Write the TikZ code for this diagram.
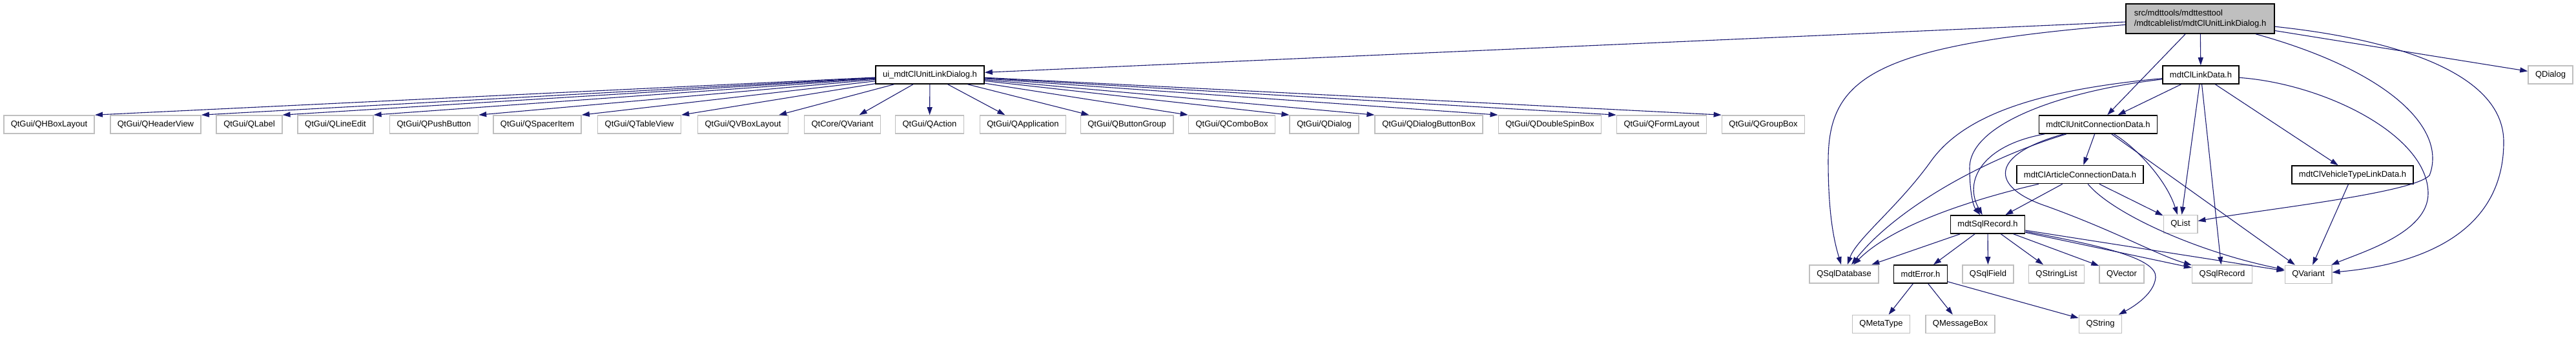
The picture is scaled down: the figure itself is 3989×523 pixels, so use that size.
\documentclass[tikz,border=0pt]{standalone}
\usepackage{fontspec}
\setmainfont{Liberation Sans}
\usepackage{xcolor}
\usepackage{tikz}
\usetikzlibrary{arrows.meta}
\definecolor{edgeblue}{HTML}{191970}
\definecolor{extgray}{HTML}{BFBFBF}
\tikzset{hdr/.style={draw=black,line width=1.6pt,fill=white,minimum height=28pt,inner xsep=11pt,inner ysep=2pt,font=\fontsize{13}{16}\selectfont},
  ext/.style={hdr,draw=extgray},
  dep/.style={edgeblue,line width=1.1pt,-{Triangle[length=12pt,width=8pt]}}}

\begin{document}
\begin{tikzpicture}[x=1pt,y=-1pt]
\useasboundingbox (0,0) rectangle (3989,523);
% main file and generated ui header
\node[hdr,fill=extgray,align=left,minimum height=46pt,inner xsep=13pt] (root) at (3407,29) {src/mdttools/mdttesttool\\/mdtcablelist/mdtClUnitLinkDialog.h};
\node[hdr] (ui) at (1440,116) {ui\_mdtClUnitLinkDialog.h};
% Qt headers of the ui file
\node[ext] (g1) at (76,193) {QtGui/QHBoxLayout}; \node[ext] (g2) at (241,193) {QtGui/QHeaderView}; \node[ext] (g3) at (386,193) {QtGui/QLabel};
\node[ext] (g4) at (519.5,193) {QtGui/QLineEdit}; \node[ext] (g5) at (672,193) {QtGui/QPushButton}; \node[ext] (g6) at (832,193) {QtGui/QSpacerItem};
\node[ext] (g7) at (990,193) {QtGui/QTableView}; \node[ext] (g8) at (1150.5,193) {QtGui/QVBoxLayout}; \node[ext] (g9) at (1304.5,193) {QtCore/QVariant};
\node[ext] (g10) at (1439.5,193) {QtGui/QAction}; \node[ext] (g11) at (1584,193) {QtGui/QApplication}; \node[ext] (g12) at (1745,193) {QtGui/QButtonGroup};
\node[ext] (g13) at (1907.5,193) {QtGui/QComboBox}; \node[ext] (g14) at (2050.5,193) {QtGui/QDialog}; \node[ext] (g15) at (2212.5,193) {QtGui/QDialogButtonBox};
\node[ext] (g16) at (2400,193) {QtGui/QDoubleSpinBox}; \node[ext] (g17) at (2573,193) {QtGui/QFormLayout}; \node[ext] (g18) at (2730.5,193) {QtGui/QGroupBox};
% project headers
\node[hdr] (linkdata) at (3408,116) {mdtClLinkData.h}; \node[ext] (qdialog) at (3949.5,116) {QDialog};
\node[hdr] (unitconn) at (3249,193) {mdtClUnitConnectionData.h};
\node[hdr] (artconn) at (3221,270.5) {mdtClArticleConnectionData.h}; \node[hdr] (vtlink) at (3643,271) {mdtClVehicleTypeLinkData.h};
\node[hdr] (sqlrec) at (3078,348) {mdtSqlRecord.h}; \node[ext] (qlist) at (3376.5,347.5) {QList};
\node[ext] (qsqldb) at (2855.5,425) {QSqlDatabase}; \node[hdr] (mdterror) at (2974,425) {mdtError.h}; \node[ext] (qsqlfield) at (3078.5,425) {QSqlField};
\node[ext] (qstrlist) at (3184.5,425) {QStringList}; \node[ext] (qvector) at (3285.5,425) {QVector}; \node[ext] (qsqlrecord) at (3441,425) {QSqlRecord};
\node[ext] (qvariant) at (3574.5,425.5) {QVariant};
\node[ext] (qmetatype) at (2913,502.5) {QMetaType}; \node[ext] (qmsgbox) at (3035.5,502.5) {QMessageBox}; \node[ext] (qstring) at (3252.5,502.5) {QString};
% includes of the main file
\draw[dep] (root) -- (ui); \draw[dep] (root) -- (linkdata); \draw[dep] (root) -- (unitconn); \draw[dep] (root) -- (qdialog);
\draw[dep] (root) .. controls (2900,70) and (2831,120) .. (2831,250) .. controls (2831,340) and (2842,380) .. (qsqldb);
\draw[dep] (root) .. controls (3700,110) and (3790,200) .. (3762,272) .. controls (3735,300) and (3500,325) .. (qlist);
\draw[dep] (root) .. controls (3700,60) and (3877,110) .. (3877,220) .. controls (3877,360) and (3750,410) .. (qvariant);
% ui file
\draw[dep] (ui) -- (g1.north east); \draw[dep] (ui) -- (g2.north east); \draw[dep] (ui) -- (g3.north east); \draw[dep] (ui) -- (g4.north east);
\draw[dep] (ui) -- (g5.north east); \draw[dep] (ui) -- (g6.north east); \draw[dep] (ui) -- (g7.north east);
\draw[dep] (ui) -- (g8); \draw[dep] (ui) -- (g9); \draw[dep] (ui) -- (g10); \draw[dep] (ui) -- (g11); \draw[dep] (ui) -- (g12);
\draw[dep] (ui) -- (g13.north west); \draw[dep] (ui) -- (g14.north west); \draw[dep] (ui) -- (g15.north west);
\draw[dep] (ui) -- (g16.north west); \draw[dep] (ui) -- (g17.north west); \draw[dep] (ui) -- (g18.north west);
% link data
\draw[dep] (linkdata) -- (unitconn); \draw[dep] (linkdata) -- (qlist); \draw[dep] (linkdata) -- (qsqlrecord); \draw[dep] (linkdata) -- (vtlink);
\draw[dep] (linkdata) .. controls (3600,130) and (3760,210) .. (3760,300) .. controls (3760,360) and (3660,390) .. (qvariant);
\draw[dep] (linkdata) .. controls (3200,140) and (3050,190) .. (3050,260) .. controls (3050,300) and (3056,320) .. (sqlrec);
\draw[dep] (linkdata) .. controls (3150,140) and (3040,180) .. (2990,250) .. controls (2940,320) and (2875,370) .. (qsqldb);
% unit connection data
\draw[dep] (unitconn) -- (artconn); \draw[dep] (unitconn) -- (qvariant);
\draw[dep] (unitconn) .. controls (3310,230) and (3355,280) .. (qlist);
\draw[dep] (unitconn) .. controls (3070,225) and (3040,280) .. (sqlrec);
\draw[dep] (unitconn) .. controls (3060,250) and (2930,330) .. (qsqldb);
\draw[dep] (unitconn) .. controls (3080,240) and (3080,290) .. (3170,320) .. controls (3280,360) and (3340,395) .. (qsqlrecord);
% article connection data
\draw[dep] (artconn) -- (sqlrec); \draw[dep] (artconn) -- (qlist);
\draw[dep] (artconn) .. controls (3270,330) and (3400,390) .. (qvariant);
\draw[dep] (artconn) .. controls (3050,310) and (2930,350) .. (qsqldb);
\draw[dep] (vtlink) -- (qvariant);
% sql record
\draw[dep] (sqlrec) -- (qsqldb); \draw[dep] (sqlrec) -- (mdterror); \draw[dep] (sqlrec) -- (qsqlfield); \draw[dep] (sqlrec) -- (qstrlist);
\draw[dep] (sqlrec) -- (qvector); \draw[dep] (sqlrec) -- (qsqlrecord); \draw[dep] (sqlrec) -- (qvariant);
\draw[dep] (sqlrec) .. controls (3250,380) and (3340,400) .. (3338,430) .. controls (3336,455) and (3305,475) .. (qstring);
% error
\draw[dep] (mdterror) -- (qmetatype); \draw[dep] (mdterror) -- (qmsgbox); \draw[dep] (mdterror) -- (qstring);
\end{tikzpicture}
\end{document}
